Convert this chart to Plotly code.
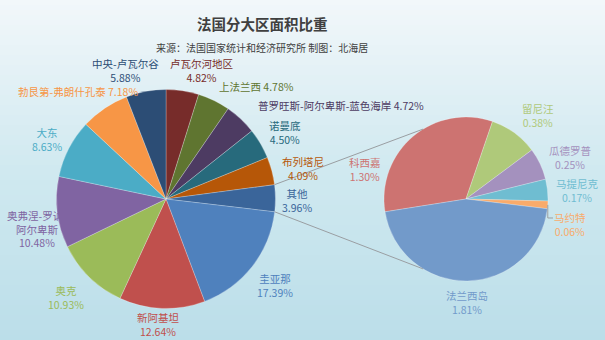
import math
import plotly.graph_objects as go

# ---------------- data ----------------
main_labels = ["卢瓦尔河地区", "上法兰西", "普罗旺斯-阿尔卑斯-蓝色海岸", "诺曼底", "布列塔尼", "其他",
               "圭亚那", "新阿基坦", "奥克", "奥弗涅-罗讷-阿尔卑斯", "大东", "勃艮第-弗朗什孔泰", "中央-卢瓦尔谷"]
main_values = [4.82, 4.78, 4.72, 4.50, 4.09, 3.96, 17.39, 12.64, 10.93, 10.48, 8.63, 7.18, 5.88]

sub_labels = ["科西嘉", "留尼汪", "瓜德罗普", "马提尼克", "马约特", "法兰西岛"]
sub_values = [1.30, 0.38, 0.25, 0.17, 0.06, 1.81]

title_text = "法国分大区面积比重"
subtitle_text = "来源：法国国家统计和经济研究所 制图：北海居"

# ---------------- styles / layout ----------------
W, H = 605, 340
FONT = "Noto Sans CJK SC, Microsoft YaHei, sans-serif"
LABEL_SIZE = 10.5

main_colors = ["#772C2A", "#5F7530", "#4D3B62", "#276A7C", "#B65708", "#3A659A",
               "#4F81BD", "#C0504D", "#9BBB59", "#8064A2", "#4BACC6", "#F79646", "#2C4D75"]
sub_colors = ["#CD7371", "#AFC97A", "#A491BE", "#6FBDD1", "#F9AB6B", "#729ACA"]

main_c, main_r = (166, 199), 109.5
sub_c, sub_r = (466, 199), 82
sub_rotation = 261
connector_angle = 121.5  # deg from +x on secondary circle

main_label_pos = [(201, 70.5, "two"), (256, 86, "one"), (341, 105, "one"), (285, 133, "two"),
                  (303, 168, "two"), (297, 200, "two"), (275, 285, "two"), (158, 324.5, "two"),
                  (66, 297, "two"), (37, 229, "two"), (47, 139.5, "two"), (78, 92, "one"),
                  (125, 70.5, "two")]
sub_label_pos = [(365, 169.5), (538, 115.5), (570, 157), (577, 190), (570, 224), (467, 302)]
name_wrap = {"奥弗涅-罗讷-阿尔卑斯": "奥弗涅-罗讷-<br>阿尔卑斯"}


def px2paper(x, y):
    return x / W, 1 - y / H


def domain(c, r):
    return dict(x=[(c[0] - r) / W, (c[0] + r) / W], y=[1 - (c[1] + r) / H, 1 - (c[1] - r) / H])


fig = go.Figure()
fig.add_trace(go.Pie(labels=main_labels, values=main_values, sort=False, direction="clockwise",
                     rotation=0, textinfo="none", hoverinfo="label+percent",
                     marker=dict(colors=main_colors, line=dict(color="rgba(255,255,255,0.35)", width=0.7)),
                     domain=domain(main_c, main_r), showlegend=False))
fig.add_trace(go.Pie(labels=sub_labels, values=sub_values, sort=False, direction="clockwise",
                     rotation=sub_rotation - 360, textinfo="none", hoverinfo="label+value",
                     marker=dict(colors=sub_colors, line=dict(color="rgba(255,255,255,0.35)", width=0.7)),
                     domain=domain(sub_c, sub_r), showlegend=False))

shapes = []
# background gradient
stops = [(0.0, (242, 247, 250), ), (0.5, (208, 233, 240)), (1.0, (187, 222, 233))]


def grad(t):
    for (t0, c0), (t1, c1) in zip(stops[:-1], stops[1:]):
        if t <= t1:
            f = (t - t0) / (t1 - t0)
            return tuple(round(a + (b - a) * f) for a, b in zip(c0, c1))
    return stops[-1][1]


N = 68
for i in range(N):
    y0 = 1 - i / N
    y1 = 1 - (i + 1.6) / N
    col = grad((i + 0.5) / N)
    shapes.append(dict(type="rect", xref="paper", yref="paper", x0=0, x1=1, y0=max(y1, 0), y1=y0,
                       fillcolor="rgb(%d,%d,%d)" % col, line=dict(width=0), layer="below"))

# connector lines from "其他" slice to secondary pie
total = sum(main_values)
idx = main_labels.index("其他")
a0 = sum(main_values[:idx]) / total * 360
a1 = sum(main_values[:idx + 1]) / total * 360
for a, sgn in ((a0, -1), (a1, 1)):
    sx = main_c[0] + main_r * math.sin(math.radians(a))
    sy = main_c[1] - main_r * math.cos(math.radians(a))
    ex = sub_c[0] + sub_r * math.cos(math.radians(sgn * connector_angle))
    ey = sub_c[1] + sub_r * math.sin(math.radians(sgn * connector_angle))
    x0, y0 = px2paper(sx, sy)
    x1, y1 = px2paper(ex, ey)
    shapes.append(dict(type="line", xref="paper", yref="paper", x0=x0, y0=y0, x1=x1, y1=y1,
                       line=dict(color="#9a9ea2", width=1)))

# leader line for 马约特
stot = sum(sub_values)
k = sub_labels.index("马约特")
mid = sub_rotation + (sum(sub_values[:k]) + sub_values[k] / 2) / stot * 360
lx = sub_c[0] + sub_r * math.sin(math.radians(mid))
ly = sub_c[1] - sub_r * math.cos(math.radians(mid))
p0 = px2paper(lx, ly)
p1 = px2paper(lx, 218)
p2 = px2paper(553, 218)
shapes.append(dict(type="path", xref="paper", yref="paper",
                   path="M %f,%f L %f,%f L %f,%f" % (p0[0], p0[1], p1[0], p1[1], p2[0], p2[1]),
                   line=dict(color="#9a9ea2", width=1)))

annotations = []
for name, v, col, (x, y, mode) in zip(main_labels, main_values, main_colors, main_label_pos):
    nm = name_wrap.get(name, name)
    txt = f"{nm}<br>{v:.2f}%" if mode == "two" else f"{nm} {v:.2f}%"
    px, py = px2paper(x, y)
    annotations.append(dict(x=px, y=py, xref="paper", yref="paper", text=txt, showarrow=False,
                            xanchor="center", yanchor="middle", align="center",
                            font=dict(family=FONT, size=LABEL_SIZE, color=col)))
for name, v, col, (x, y) in zip(sub_labels, sub_values, sub_colors, sub_label_pos):
    px, py = px2paper(x, y)
    annotations.append(dict(x=px, y=py, xref="paper", yref="paper", text=f"{name}<br>{v:.2f}%",
                            showarrow=False, xanchor="center", yanchor="middle", align="center",
                            font=dict(family=FONT, size=LABEL_SIZE, color=col)))

tx, ty = px2paper(262, 24)
annotations.append(dict(x=tx, y=ty, xref="paper", yref="paper", text=f"<b>{title_text}</b>",
                        showarrow=False, xanchor="center", yanchor="middle",
                        font=dict(family=FONT, size=14.5, color="#404040")))
sx_, sy_ = px2paper(262, 48)
annotations.append(dict(x=sx_, y=sy_, xref="paper", yref="paper", text=subtitle_text,
                        showarrow=False, xanchor="center", yanchor="middle",
                        font=dict(family=FONT, size=10, color="#404040")))

fig.update_layout(width=W, height=H, margin=dict(l=0, r=0, t=0, b=0),
                  paper_bgcolor="#d8ecf2", plot_bgcolor="rgba(0,0,0,0)",
                  shapes=shapes, annotations=annotations, showlegend=False)

fig.write_html("out.html", config={"displayModeBar": False})
